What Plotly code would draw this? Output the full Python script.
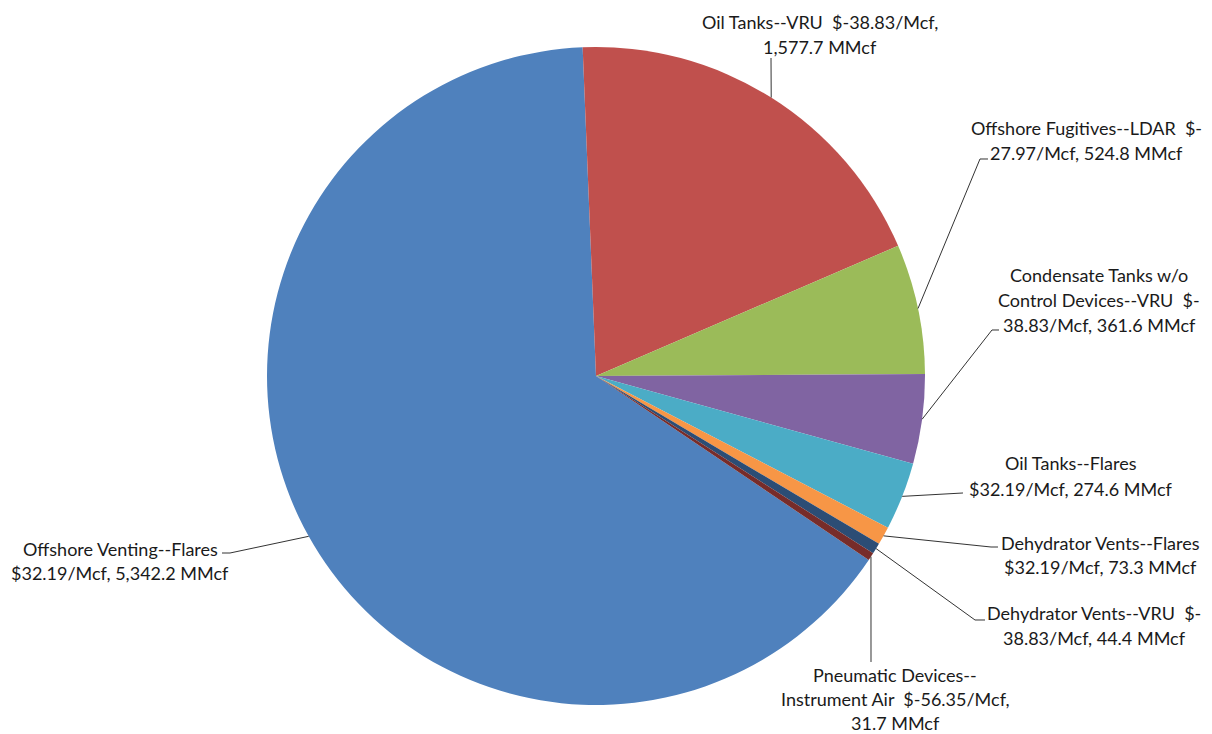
import math
import plotly.graph_objects as go

# Emission sources, abatement cost and volume
sources = [
    "Offshore Venting--Flares",
    "Oil Tanks--VRU",
    "Offshore Fugitives--LDAR",
    "Condensate Tanks w/o Control Devices--VRU",
    "Oil Tanks--Flares",
    "Dehydrator Vents--Flares",
    "Dehydrator Vents--VRU",
    "Pneumatic Devices--Instrument Air",
]
cost_per_mcf = [32.19, -38.83, -27.97, -38.83, 32.19, 32.19, -38.83, -56.35]
volume_mmcf = [5342.2, 1577.7, 524.8, 361.6, 274.6, 73.3, 44.4, 31.7]
slice_colors = ["#4F81BD", "#C0504D", "#9BBB59", "#8064A2",
                "#4BACC6", "#F79646", "#2C4D75", "#772C2A"]

# Where each label wraps (text after which a new line starts)
wrap_after = [
    ["Flares"],
    ["/Mcf,"],
    ["$-"],
    ["w/o", "$-"],
    ["Flares"],
    ["Flares"],
    ["$-"],
    ["Devices--", "/Mcf,"],
]

# ---- layout geometry (pixels) ----
W, H = 1212, 734
M_L, M_R, M_T, M_B = 0, 0, 47, 29
PLOT_W, PLOT_H = W - M_L - M_R, H - M_T - M_B
PIE_CX = 596
DOM_HALF = 0.3
ROTATION = 124
FONT = "Lato"
FSIZE = 18

# label block: centre x, first line centre y, line gap ; leader: elbow point, end point
label_pos = [(120, 549, 24), (820, 22, 25), (1086, 128, 25), (1099, 275, 25),
             (1071, 463, 26), (1100, 543, 24), (1094, 613, 25), (895, 675, 24)]
leader_elbow = [(230, 553), (771, 58), (980, 159), (992, 330),
                (963, 493), (991, 547), (975, 620), (871, 662)]
leader_end = [(222, 553), (771, 58), (988, 159), (999, 330),
              (963, 493), (998, 547), (985, 620), (871, 662)]


def label_text(name, cost, vol):
    return f"{name}  ${cost:.2f}/Mcf, {vol:,.1f} MMcf"


def split_lines(text, tokens):
    out = []
    rest = text
    for tok in tokens:
        k = rest.index(tok) + len(tok)
        out.append(rest[:k].strip())
        rest = rest[k:]
    out.append(rest.strip())
    return out


def px_to_paper(x, y):
    return (x - M_L) / PLOT_W, (H - M_B - y) / PLOT_H


dom_c = (PIE_CX - M_L) / PLOT_W
fig = go.Figure(go.Pie(
    labels=sources,
    values=volume_mmcf,
    sort=False,
    direction="clockwise",
    rotation=ROTATION,
    marker=dict(colors=slice_colors, line=dict(width=0)),
    textinfo="none",
    hoverinfo="label+value",
    showlegend=False,
    domain=dict(x=[dom_c - DOM_HALF, dom_c + DOM_HALF], y=[0, 1]),
))

# pie centre/radius as plotly lays it out
r = min(PLOT_W * 2 * DOM_HALF, PLOT_H) / 2
cx = M_L + PLOT_W * dom_c
cy = M_T + PLOT_H / 2

total = sum(volume_mmcf)
cum = 0.0
shapes = []
annotations = []
for i, v in enumerate(volume_mmcf):
    mid = math.radians(ROTATION + 360 * (cum + v / 2) / total)
    cum += v
    ex, ey = cx + r * math.sin(mid), cy - r * math.cos(mid)
    pts = [(ex, ey), leader_elbow[i], leader_end[i]]
    path = "M " + " L ".join(
        "{:.5f},{:.5f}".format(*px_to_paper(*p)) for p in pts)
    shapes.append(dict(type="path", xref="paper", yref="paper", path=path,
                       line=dict(color="#333333", width=1)))

    lines = split_lines(label_text(sources[i], cost_per_mcf[i], v), wrap_after[i])
    lx, ly, gap = label_pos[i]
    for j, ln in enumerate(lines):
        px, py = px_to_paper(lx, ly + j * gap)
        annotations.append(dict(
            x=px, y=py, xref="paper", yref="paper", text=ln,
            showarrow=False, xanchor="center", yanchor="middle",
            font=dict(family=FONT, size=FSIZE, color="#1a1a1a"),
        ))

fig.update_layout(
    width=W, height=H,
    margin=dict(l=M_L, r=M_R, t=M_T, b=M_B),
    paper_bgcolor="white",
    plot_bgcolor="white",
    shapes=shapes,
    annotations=annotations,
)

fig.write_html("out.html")
